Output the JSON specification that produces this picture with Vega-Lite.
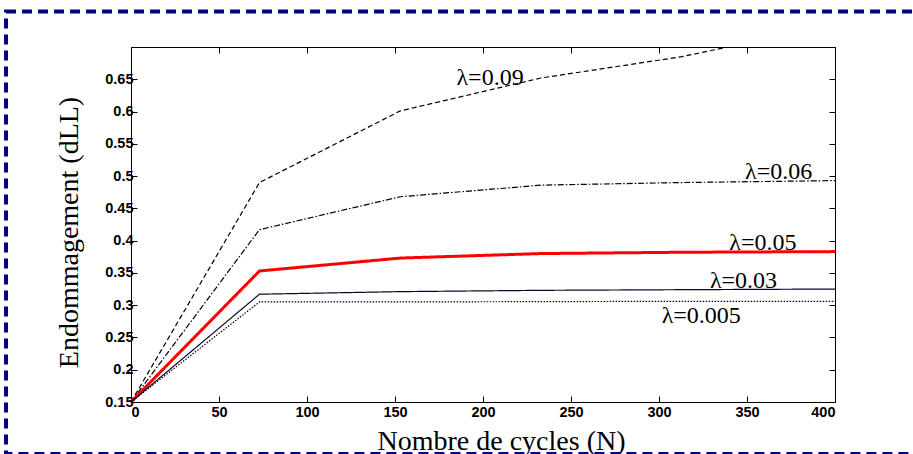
{
  "$schema": "https://vega.github.io/schema/vega-lite/v6.json",
  "autosize": {"type": "none"},
  "width": 704,
  "height": 355,
  "padding": {"left": 131, "top": 47, "right": 78, "bottom": 52},
  "background": "white",
  "config": {
    "view": {"stroke": "black", "strokeWidth": 1},
    "axis": {"grid": false, "domainColor": "black", "tickColor": "black", "tickSize": -6, "labelFont": "Liberation Sans", "labelFontWeight": "bold", "labelFontSize": 14.5, "labelColor": "black", "titleFont": "Liberation Serif", "titleFontWeight": "normal", "titleFontSize": 28, "titleColor": "black"}
  },
  "datasets": {
    "series": [
      {"lam": "0.09", "N": 0, "d": 0.15}, {"lam": "0.09", "N": 73, "d": 0.49}, {"lam": "0.09", "N": 153, "d": 0.601}, {"lam": "0.09", "N": 233, "d": 0.652}, {"lam": "0.09", "N": 313, "d": 0.685}, {"lam": "0.09", "N": 400, "d": 0.735},
      {"lam": "0.06", "N": 0, "d": 0.15}, {"lam": "0.06", "N": 73, "d": 0.417}, {"lam": "0.06", "N": 153, "d": 0.468}, {"lam": "0.06", "N": 233, "d": 0.486}, {"lam": "0.06", "N": 313, "d": 0.49}, {"lam": "0.06", "N": 400, "d": 0.493},
      {"lam": "0.05", "N": 0, "d": 0.15}, {"lam": "0.05", "N": 73, "d": 0.353}, {"lam": "0.05", "N": 153, "d": 0.373}, {"lam": "0.05", "N": 233, "d": 0.38}, {"lam": "0.05", "N": 313, "d": 0.382}, {"lam": "0.05", "N": 400, "d": 0.383},
      {"lam": "0.03", "N": 0, "d": 0.15}, {"lam": "0.03", "N": 73, "d": 0.317}, {"lam": "0.03", "N": 153, "d": 0.321}, {"lam": "0.03", "N": 233, "d": 0.323}, {"lam": "0.03", "N": 313, "d": 0.324}, {"lam": "0.03", "N": 400, "d": 0.325},
      {"lam": "0.005", "N": 0, "d": 0.15}, {"lam": "0.005", "N": 73, "d": 0.305}, {"lam": "0.005", "N": 153, "d": 0.305}, {"lam": "0.005", "N": 233, "d": 0.3055}, {"lam": "0.005", "N": 313, "d": 0.306}, {"lam": "0.005", "N": 400, "d": 0.306}
    ],
    "labels": [
      {"text": "λ=0.09", "N": 204, "d": 0.641},
      {"text": "λ=0.06", "N": 368, "d": 0.4955},
      {"text": "λ=0.05", "N": 359, "d": 0.3855},
      {"text": "λ=0.03", "N": 348, "d": 0.3266},
      {"text": "λ=0.005", "N": 324, "d": 0.2724}
    ]
  },
  "layer": [
    {
      "data": {"name": "series"},
      "mark": {"type": "line", "clip": true},
      "encoding": {
        "x": {"field": "N", "type": "quantitative", "scale": {"domain": [0, 400], "nice": false, "zero": false},
              "axis": {"orient": "bottom", "values": [0, 50, 100, 150, 200, 250, 300, 350, 400], "labelPadding": 9, "title": "Nombre de cycles (N)", "titleX": 370, "titleY": 47, "titleBaseline": "alphabetic", "titleAlign": "center"}},
        "y": {"field": "d", "type": "quantitative", "scale": {"domain": [0.15, 0.7], "nice": false, "zero": false},
              "axis": {"orient": "left", "values": [0.15, 0.2, 0.25, 0.3, 0.35, 0.4, 0.45, 0.5, 0.55, 0.6, 0.65], "labelExpr": "'' + datum.value", "labelPadding": 4, "title": "Endommagement (dLL)", "titleAngle": -90, "titleX": -54, "titleY": 185, "titleBaseline": "alphabetic", "titleAlign": "center"}},
        "color": {"field": "lam", "type": "nominal", "scale": {"domain": ["0.09", "0.06", "0.05", "0.03", "0.005"], "range": ["#000000", "#000000", "#ff0000", "#0a0a30", "#000000"]}, "legend": null},
        "strokeDash": {"field": "lam", "type": "nominal", "scale": {"domain": ["0.09", "0.06", "0.05", "0.03", "0.005"], "range": [[5, 3], [6, 2, 1.5, 2], [1, 0], [1, 0], [1.5, 1.5]]}, "legend": null},
        "strokeWidth": {"condition": {"test": "datum.lam === '0.05'", "value": 3}, "value": 1.2}
      }
    },
    {
      "data": {"name": "labels"},
      "mark": {"type": "text", "font": "Liberation Serif", "fontSize": 24, "align": "center", "baseline": "alphabetic", "color": "black", "clip": false},
      "encoding": {
        "x": {"field": "N", "type": "quantitative", "scale": {"domain": [0, 400], "nice": false, "zero": false},
              "axis": {"orient": "top", "values": [0, 50, 100, 150, 200, 250, 300, 350, 400], "labels": false, "title": null}},
        "y": {"field": "d", "type": "quantitative", "scale": {"domain": [0.15, 0.7], "nice": false, "zero": false},
              "axis": {"orient": "right", "values": [0.15, 0.2, 0.25, 0.3, 0.35, 0.4, 0.45, 0.5, 0.55, 0.6, 0.65], "labels": false, "title": null}},
        "text": {"field": "text", "type": "nominal"}
      }
    },
    {
      "data": {"values": [{}]},
      "mark": {"type": "rect", "fill": null, "fillOpacity": 0, "stroke": "#000080", "strokeWidth": 4, "strokeDash": [10, 6], "clip": false},
      "encoding": {
        "x": {"datum": -71, "type": "quantitative", "scale": {"domain": [0, 400], "nice": false, "zero": false}, "axis": null},
        "x2": {"datum": 446},
        "y": {"datum": 0.755, "type": "quantitative", "scale": {"domain": [0.15, 0.7], "nice": false, "zero": false}, "axis": null},
        "y2": {"datum": 0.0694}
      }
    }
  ],
  "resolve": {"axis": {"x": "independent", "y": "independent"}}
}
